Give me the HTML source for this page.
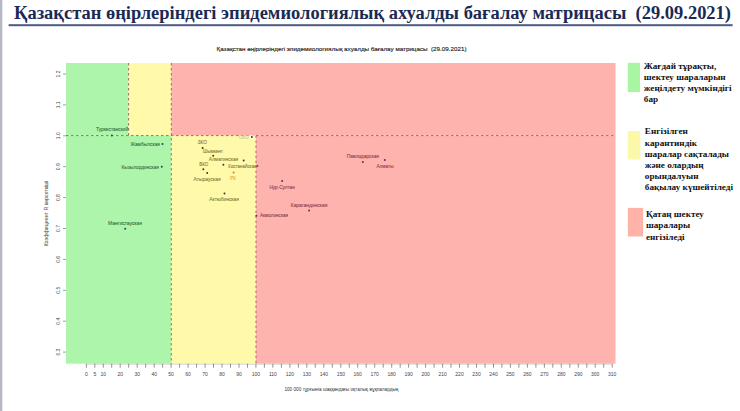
<!DOCTYPE html>
<html><head><meta charset="utf-8"><style>
html,body{margin:0;padding:0;background:#fff;width:740px;height:411px;overflow:hidden}
svg{display:block}

</style></head><body>
<svg width="740" height="411" viewBox="0 0 740 411">
<rect x="0" y="0" width="2.3" height="411" fill="#b6b9c4"/>
<text xml:space="preserve" x="14" y="19.3" font-family="Liberation Serif, serif" font-weight="bold" font-size="18.5" fill="#1b2a55" textLength="717" lengthAdjust="spacingAndGlyphs">Қазақстан өңірлеріндегі эпидемиологиялық ахуалды бағалау матрицасы  (29.09.2021)</text>
<rect x="8.6" y="24.2" width="724" height="2" fill="#4c5a86"/>
<text xml:space="preserve" x="216.5" y="50.6" font-family="Liberation Sans, sans-serif" font-size="6.2" fill="#222" stroke="#222" stroke-width="0.14" textLength="250" lengthAdjust="spacingAndGlyphs">Қазақстан өңірлеріндегі эпидемиологиялық ахуалды бағалау матрицасы  (29.09.2021)</text>
<rect x="66" y="63" width="62.6" height="72.6" fill="#aef5ac"/>
<rect x="128.6" y="63" width="42.7" height="72.6" fill="#fff9aa"/>
<rect x="171.3" y="63" width="444.2" height="72.6" fill="#ffb3af"/>
<rect x="66" y="135.6" width="105.3" height="228.1" fill="#aef5ac"/>
<rect x="171.3" y="135.6" width="84.7" height="228.1" fill="#fff9aa"/>
<rect x="256.0" y="135.6" width="359.5" height="228.1" fill="#ffb3af"/>
<g stroke="#9c7256" stroke-width="1" stroke-dasharray="2.5 2.5" fill="none">
<line x1="66" y1="135.6" x2="615.5" y2="135.6"/>
<line x1="128.6" y1="63" x2="128.6" y2="135.6"/>
<line x1="171.3" y1="63" x2="171.3" y2="363.7"/>
<line x1="256.0" y1="135.6" x2="256.0" y2="363.7"/>
</g>
<line x1="86.3" y1="364.2" x2="612.2149999999999" y2="364.2" stroke="#b8b8b8" stroke-width="0.6"/>
<path d="M86.3 363.7V367.7 M94.8 363.7V367.7 M103.3 363.7V367.7 M111.7 363.7V367.7 M120.2 363.7V367.7 M128.7 363.7V367.7 M137.2 363.7V367.7 M145.7 363.7V367.7 M154.2 363.7V367.7 M162.6 363.7V367.7 M171.1 363.7V367.7 M179.6 363.7V367.7 M188.1 363.7V367.7 M196.6 363.7V367.7 M205.1 363.7V367.7 M213.5 363.7V367.7 M222.0 363.7V367.7 M230.5 363.7V367.7 M239.0 363.7V367.7 M247.5 363.7V367.7 M255.9 363.7V367.7 M264.4 363.7V367.7 M272.9 363.7V367.7 M281.4 363.7V367.7 M289.9 363.7V367.7 M298.4 363.7V367.7 M306.8 363.7V367.7 M315.3 363.7V367.7 M323.8 363.7V367.7 M332.3 363.7V367.7 M340.8 363.7V367.7 M349.3 363.7V367.7 M357.7 363.7V367.7 M366.2 363.7V367.7 M374.7 363.7V367.7 M383.2 363.7V367.7 M391.7 363.7V367.7 M400.2 363.7V367.7 M408.6 363.7V367.7 M417.1 363.7V367.7 M425.6 363.7V367.7 M434.1 363.7V367.7 M442.6 363.7V367.7 M451.0 363.7V367.7 M459.5 363.7V367.7 M468.0 363.7V367.7 M476.5 363.7V367.7 M485.0 363.7V367.7 M493.5 363.7V367.7 M501.9 363.7V367.7 M510.4 363.7V367.7 M518.9 363.7V367.7 M527.4 363.7V367.7 M535.9 363.7V367.7 M544.4 363.7V367.7 M552.8 363.7V367.7 M561.3 363.7V367.7 M569.8 363.7V367.7 M578.3 363.7V367.7 M586.8 363.7V367.7 M595.2 363.7V367.7 M603.7 363.7V367.7 M612.2 363.7V367.7" stroke="#777" stroke-width="0.8"/>
<g font-family="Liberation Sans, sans-serif" font-size="5" fill="#444" text-anchor="middle">
<text x="86.3" y="376.4">0</text>
<text x="94.8" y="376.4">5</text>
<text x="103.3" y="376.4">10</text>
<text x="120.2" y="376.4">20</text>
<text x="137.2" y="376.4">30</text>
<text x="154.2" y="376.4">40</text>
<text x="171.1" y="376.4">50</text>
<text x="188.1" y="376.4">60</text>
<text x="205.1" y="376.4">70</text>
<text x="222.0" y="376.4">80</text>
<text x="239.0" y="376.4">90</text>
<text x="255.9" y="376.4">100</text>
<text x="272.9" y="376.4">110</text>
<text x="289.9" y="376.4">120</text>
<text x="306.8" y="376.4">130</text>
<text x="323.8" y="376.4">140</text>
<text x="340.8" y="376.4">150</text>
<text x="357.7" y="376.4">160</text>
<text x="374.7" y="376.4">170</text>
<text x="391.7" y="376.4">180</text>
<text x="408.6" y="376.4">190</text>
<text x="425.6" y="376.4">200</text>
<text x="442.6" y="376.4">210</text>
<text x="459.5" y="376.4">220</text>
<text x="476.5" y="376.4">230</text>
<text x="493.5" y="376.4">240</text>
<text x="510.4" y="376.4">250</text>
<text x="527.4" y="376.4">260</text>
<text x="544.4" y="376.4">270</text>
<text x="561.3" y="376.4">280</text>
<text x="578.3" y="376.4">290</text>
<text x="595.2" y="376.4">300</text>
<text x="612.2" y="376.4">310</text>
</g>
<text x="341.4" y="390.5" font-family="Liberation Sans, sans-serif" font-size="5.5" fill="#333" text-anchor="middle" textLength="114" lengthAdjust="spacingAndGlyphs">100 000 тұрғынға шаққандағы оқталық жұқпалардың</text>
<g font-family="Liberation Sans, sans-serif" font-size="5" fill="#444" text-anchor="middle">
<text transform="translate(59.6,74.0) rotate(-90)" x="0" y="0">1.2</text>
<text transform="translate(59.6,104.9) rotate(-90)" x="0" y="0">1.1</text>
<text transform="translate(59.6,135.8) rotate(-90)" x="0" y="0">1.0</text>
<text transform="translate(59.6,166.7) rotate(-90)" x="0" y="0">0.9</text>
<text transform="translate(59.6,197.6) rotate(-90)" x="0" y="0">0.8</text>
<text transform="translate(59.6,228.5) rotate(-90)" x="0" y="0">0.7</text>
<text transform="translate(59.6,259.4) rotate(-90)" x="0" y="0">0.6</text>
<text transform="translate(59.6,290.3) rotate(-90)" x="0" y="0">0.5</text>
<text transform="translate(59.6,321.2) rotate(-90)" x="0" y="0">0.4</text>
<text transform="translate(59.6,352.1) rotate(-90)" x="0" y="0">0.3</text>
</g>
<path d="M63 74.0H66 M63 104.9H66 M63 135.8H66 M63 166.7H66 M63 197.6H66 M63 228.5H66 M63 259.4H66 M63 290.3H66 M63 321.2H66 M63 352.1H66" stroke="#888" stroke-width="0.8"/>
<text transform="translate(48.2,213.5) rotate(-90)" font-family="Liberation Sans, sans-serif" font-size="5.5" fill="#666" stroke="#666" stroke-width="0.08" text-anchor="middle" textLength="66" lengthAdjust="spacingAndGlyphs">Коэффициент R көрсеткіші</text>
<g font-family="Liberation Sans, sans-serif" font-size="6">
<text x="96" y="131.3" fill="#36703c" stroke="#36703c" stroke-width="0.1" textLength="32.2" lengthAdjust="spacingAndGlyphs">Туркестанский</text>
<text x="130.4" y="145.9" fill="#36703c" stroke="#36703c" stroke-width="0.1" textLength="29.6" lengthAdjust="spacingAndGlyphs">Жамбылская</text>
<text x="121.6" y="168.5" fill="#36703c" stroke="#36703c" stroke-width="0.1" textLength="37.2" lengthAdjust="spacingAndGlyphs">Кызылординская</text>
<text x="108" y="224.7" fill="#36703c" stroke="#36703c" stroke-width="0.1" textLength="34.0" lengthAdjust="spacingAndGlyphs">Мангистауская</text>
<text x="238.9" y="139.3" fill="#cfc890" stroke="#cfc890" stroke-width="0.1" textLength="9.9" lengthAdjust="spacingAndGlyphs">СКО</text>
<text x="197.7" y="144.3" fill="#877c34" stroke="#877c34" stroke-width="0.1" textLength="9.3" lengthAdjust="spacingAndGlyphs">ЗКО</text>
<text x="203" y="152.5" fill="#877c34" stroke="#877c34" stroke-width="0.1" textLength="19.9" lengthAdjust="spacingAndGlyphs">Шымкент</text>
<text x="208.8" y="161.1" fill="#877c34" stroke="#877c34" stroke-width="0.1" textLength="29.4" lengthAdjust="spacingAndGlyphs">Алматинская</text>
<text x="199.3" y="165.7" fill="#877c34" stroke="#877c34" stroke-width="0.1" textLength="8.9" lengthAdjust="spacingAndGlyphs">ВКО</text>
<text x="228.3" y="167.9" fill="#877c34" stroke="#877c34" stroke-width="0.1" textLength="28.2" lengthAdjust="spacingAndGlyphs">Костанайская</text>
<text x="193.5" y="181.0" fill="#877c34" stroke="#877c34" stroke-width="0.1" textLength="27.3" lengthAdjust="spacingAndGlyphs">Атырауская</text>
<text x="230.3" y="180.4" fill="#e8a040" stroke="#e8a040" stroke-width="0.1" textLength="5.5" lengthAdjust="spacingAndGlyphs">РК</text>
<text x="209.3" y="201.2" fill="#877c34" stroke="#877c34" stroke-width="0.1" textLength="29.7" lengthAdjust="spacingAndGlyphs">Актюбинская</text>
<text x="260" y="217.4" fill="#8c3e4e" stroke="#8c3e4e" stroke-width="0.1" textLength="28.1" lengthAdjust="spacingAndGlyphs">Акмолинская</text>
<text x="269.4" y="189.1" fill="#8c3e4e" stroke="#8c3e4e" stroke-width="0.1" textLength="25.4" lengthAdjust="spacingAndGlyphs">Нур-Султан</text>
<text x="290.8" y="207.1" fill="#8c3e4e" stroke="#8c3e4e" stroke-width="0.1" textLength="36.5" lengthAdjust="spacingAndGlyphs">Карагандинская</text>
<text x="346.8" y="157.8" fill="#8c3e4e" stroke="#8c3e4e" stroke-width="0.1" textLength="32.2" lengthAdjust="spacingAndGlyphs">Павлодарская</text>
<text x="376.5" y="167.8" fill="#8c3e4e" stroke="#8c3e4e" stroke-width="0.1" textLength="17.1" lengthAdjust="spacingAndGlyphs">Алматы</text>
</g>
<circle cx="251.7" cy="137.1" r="2.2" fill="#fffbe8"/>
<circle cx="111.8" cy="135.4" r="1.0" fill="#1d4f4f"/>
<circle cx="162.5" cy="144.1" r="1.0" fill="#1d4f4f"/>
<circle cx="161.8" cy="166.8" r="1.0" fill="#1d4f4f"/>
<circle cx="125.2" cy="228.7" r="1.0" fill="#1d4f4f"/>
<circle cx="251.9" cy="137.1" r="1.0" fill="#3a3a30"/>
<circle cx="202.6" cy="148" r="1.0" fill="#3a3a30"/>
<circle cx="213.2" cy="155.7" r="1.0" fill="#3a3a30"/>
<circle cx="243.7" cy="160.4" r="1.0" fill="#3a3a30"/>
<circle cx="223.4" cy="164.8" r="1.0" fill="#3a3a30"/>
<circle cx="257.4" cy="166.1" r="1.0" fill="#7a3a30"/>
<circle cx="203.3" cy="169.2" r="1.0" fill="#3a3a30"/>
<circle cx="207.2" cy="173" r="1.0" fill="#3a3a30"/>
<circle cx="233.6" cy="172.4" r="1.0" fill="#d07a20"/>
<circle cx="224.5" cy="193.5" r="1.0" fill="#3a3a30"/>
<circle cx="256.4" cy="215.7" r="1.0" fill="#623060"/>
<circle cx="282.1" cy="181" r="1.0" fill="#623060"/>
<circle cx="309.1" cy="210.5" r="1.0" fill="#623060"/>
<circle cx="362.9" cy="161.9" r="1.0" fill="#623060"/>
<circle cx="384.8" cy="160" r="1.0" fill="#623060"/>
<rect x="627.8" y="62.8" width="12.2" height="29.2" fill="#a8f5a2"/>
<rect x="627.8" y="131" width="12.5" height="28.5" fill="#fcf8aa"/>
<rect x="627.9" y="207.9" width="15.2" height="28.6" fill="#ffb2a8"/>
<g font-family="Liberation Serif, serif" font-weight="bold" font-size="9.2" fill="#111">
<text x="643.8" y="68.8">Жағдай тұрақты,</text>
<text x="643.8" y="80.0">шектеу шараларын</text>
<text x="643.8" y="91.2">жеңілдету мүмкіндігі</text>
<text x="643.8" y="102.4">бар</text>
<text x="644.8" y="134.4">Енгізілген</text>
<text x="644.8" y="145.6">карантиндік</text>
<text x="644.8" y="156.8">шаралар сақталады</text>
<text x="644.8" y="168.0">және олардың</text>
<text x="644.8" y="179.2">орындалуын</text>
<text x="644.8" y="190.4">бақылау күшейтіледі</text>
<text x="646" y="217.2">Қатаң шектеу</text>
<text x="646" y="228.4">шаралары</text>
<text x="646" y="239.6">енгізіледі</text>
</g>
</svg>
</body></html>
